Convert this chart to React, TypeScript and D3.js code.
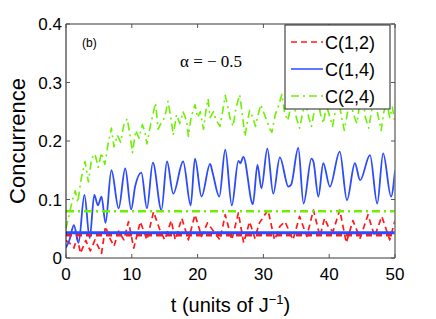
import { useEffect, useRef } from "react";
import * as d3 from "d3";

// values
const xTicks = [0, 10, 20, 30, 40, 50];
const yTicks = [0, 0.1, 0.2, 0.3, 0.4];
const yTickLabels = ["0", "0.1", "0.2", "0.3", "0.4"];

const c12T = [0, 0.6, 1.2, 1.7, 2.2, 3.0, 3.7, 4.4, 5.4, 6.0, 6.6, 7.3, 8.0, 8.8, 9.5, 10.3, 11.3, 12.3, 13.3, 14.2, 15.0, 16.0, 16.6, 17.6, 18.6, 19.6, 20.6, 21.5, 22.4, 23.4, 24.2, 25.2, 26.2, 27.0, 27.9, 28.7, 29.4, 30.7, 31.7, 32.5, 33.3, 34.5, 35.5, 36.6, 37.6, 38.6, 39.3, 40.0, 40.6, 41.6, 42.6, 43.6, 44.7, 45.9, 46.9, 48.0, 49.2, 50];
const c12V = [0.03, 0.025, 0.017, 0.035, 0.008, 0.03, 0.012, 0.031, 0.008, 0.054, 0.035, 0.02, 0.046, 0.031, 0.062, 0.017, 0.062, 0.031, 0.079, 0.05, 0.031, 0.064, 0.031, 0.068, 0.031, 0.074, 0.037, 0.06, 0.046, 0.031, 0.074, 0.031, 0.077, 0.026, 0.062, 0.034, 0.06, 0.082, 0.031, 0.054, 0.062, 0.031, 0.071, 0.037, 0.082, 0.037, 0.068, 0.05, 0.046, 0.082, 0.026, 0.064, 0.034, 0.074, 0.037, 0.071, 0.031, 0.064];

const c14T = [0, 0.5, 1.2, 1.9, 2.8, 3.6, 4.3, 4.85, 5.4, 6.0, 6.9, 8.0, 9.0, 9.9, 10.5, 11.45, 12.3, 13.2, 14.5, 15.35, 16.3, 17.8, 18.95, 19.6, 20.6, 21.9, 22.3, 23.3, 24.2, 25.2, 26.2, 26.5, 26.95, 28.4, 29.1, 29.7, 30.6, 31.5, 32.5, 33.8, 34.2, 35.3, 36.1, 37.3, 37.6, 38.35, 39.1, 40.1, 41.6, 42.7, 43.9, 44.7, 46.2, 47.3, 48.2, 49.4, 50];
const c14V = [0.018, 0.03, 0.056, 0.026, 0.108, 0.034, 0.108, 0.09, 0.105, 0.06, 0.15, 0.085, 0.153, 0.083, 0.122, 0.146, 0.085, 0.163, 0.082, 0.165, 0.11, 0.165, 0.09, 0.17, 0.105, 0.161, 0.145, 0.105, 0.185, 0.09, 0.166, 0.162, 0.173, 0.092, 0.159, 0.119, 0.187, 0.11, 0.172, 0.122, 0.125, 0.188, 0.093, 0.17, 0.165, 0.105, 0.162, 0.122, 0.182, 0.099, 0.162, 0.133, 0.176, 0.093, 0.179, 0.105, 0.15];

const c24T = [0, 0.5, 1.0, 1.4, 1.8, 2.3, 2.9, 3.4, 3.9, 4.4, 4.9, 5.4, 5.9, 6.4, 6.9, 7.3, 7.8, 8.3, 8.8, 9.3, 9.8, 10.1, 10.6, 11.1, 11.6, 12.0, 12.3, 12.8, 13.2, 13.6, 14.0, 14.5, 15.0, 15.5, 16.0, 16.3, 16.8, 17.3, 17.8, 18.3, 18.6, 19.0, 19.6, 20.0, 20.4, 20.9, 21.3, 21.6, 21.9, 22.4, 22.8, 23.4, 23.8, 24.2, 24.6, 24.9, 25.4, 25.8, 26.4, 26.8, 27.2, 27.6, 27.9, 28.4, 28.8, 29.2, 29.6, 30.0, 30.5, 31.0, 31.3, 31.8, 32.3, 32.8, 33.2, 33.7, 34.2, 34.6, 35.0, 35.5, 36.0, 36.4, 36.9, 37.3, 37.8, 38.2, 38.7, 39.1, 39.6, 40.0, 40.5, 41.0, 41.4, 41.9, 42.3, 42.8, 43.2, 43.7, 44.2, 44.6, 45.1, 45.5, 46.0, 46.5, 46.9, 47.4, 47.9, 48.3, 48.8, 49.2, 49.6, 50];
const c24V = [0.05, 0.075, 0.1, 0.115, 0.095, 0.135, 0.165, 0.13, 0.17, 0.178, 0.155, 0.18, 0.16, 0.195, 0.222, 0.19, 0.21, 0.198, 0.228, 0.238, 0.205, 0.18, 0.218, 0.205, 0.228, 0.215, 0.195, 0.225, 0.245, 0.265, 0.22, 0.232, 0.24, 0.268, 0.235, 0.21, 0.245, 0.23, 0.25, 0.235, 0.208, 0.24, 0.262, 0.24, 0.25, 0.22, 0.255, 0.272, 0.24, 0.25, 0.236, 0.225, 0.25, 0.278, 0.258, 0.24, 0.225, 0.255, 0.279, 0.245, 0.208, 0.235, 0.252, 0.24, 0.225, 0.245, 0.262, 0.25, 0.235, 0.22, 0.215, 0.245, 0.26, 0.28, 0.25, 0.235, 0.26, 0.27, 0.24, 0.222, 0.25, 0.268, 0.24, 0.225, 0.255, 0.275, 0.245, 0.23, 0.26, 0.245, 0.225, 0.255, 0.272, 0.24, 0.218, 0.25, 0.27, 0.245, 0.23, 0.26, 0.275, 0.24, 0.222, 0.255, 0.27, 0.245, 0.218, 0.25, 0.265, 0.24, 0.258, 0.23];

// long-time average levels (horizontal lines)
const avgT = [0, 50];
const avg12 = [0.039, 0.039];
const avg14 = [0.043, 0.043];
const avg24 = [0.08, 0.08];

const legendNames = ["C(1,2)", "C(1,4)", "C(2,4)"];

const RED = "#ff1a1a";
const BLUE = "#2a4bff";
const GREEN = "#6ef000";
const DASH = "6,4";
const DASHDOT = "8,4,2,4";

export default function App() {
  const svgRef = useRef<SVGSVGElement>(null);

  useEffect(() => {
    if (!svgRef.current) return;
    const svg = d3.select(svgRef.current);
    svg.selectAll("*").remove();

    const width = 436;
    const height = 319;
    const margin = { top: 24, right: 41, bottom: 61, left: 66 };
    const font = "Liberation Sans, Arial, sans-serif";

    const x = d3.scaleLinear().domain([0, 50]).range([margin.left, width - margin.right]);
    const y = d3.scaleLinear().domain([0, 0.4]).range([height - margin.bottom, margin.top]);

    svg.append("rect").attr("width", width).attr("height", height).attr("fill", "#fff");

    const clip = svg.append("defs").append("clipPath").attr("id", "plot-clip");
    clip
      .append("rect")
      .attr("x", margin.left)
      .attr("y", margin.top)
      .attr("width", x(50) - x(0))
      .attr("height", y(0) - y(0.4));

    const plot = svg.append("g").attr("clip-path", "url(#plot-clip)");

    const line = (curve: d3.CurveFactory) =>
      d3
        .line<[number, number]>()
        .x((d) => x(d[0]))
        .y((d) => y(d[1]))
        .curve(curve);

    const zip = (ts: number[], vs: number[]) => ts.map((t, i) => [t, vs[i]] as [number, number]);

    const drawSeries = (
      ts: number[],
      vs: number[],
      color: string,
      w: number,
      dash: string | null,
      curve: d3.CurveFactory
    ) => {
      plot
        .append("path")
        .datum(zip(ts, vs))
        .attr("d", line(curve))
        .attr("fill", "none")
        .attr("stroke", color)
        .attr("stroke-width", w)
        .attr("stroke-dasharray", dash)
        .attr("stroke-linejoin", "round");
    };

    // time series
    drawSeries(c24T, c24V, GREEN, 1.6, DASHDOT, d3.curveLinear);
    drawSeries(c12T, c12V, RED, 1.7, DASH, d3.curveLinear);
    drawSeries(c14T, c14V, BLUE, 1.8, null, d3.curveMonotoneX);

    // averages
    drawSeries(avgT, avg24, GREEN, 2.6, DASHDOT, d3.curveLinear);
    drawSeries(avgT, avg12, RED, 2.4, DASH, d3.curveLinear);
    drawSeries(avgT, avg14, BLUE, 3, null, d3.curveLinear);

    // frame
    const frame = svg.append("g");
    const x0 = x(0), x1 = x(50), y0 = y(0), y1 = y(0.4);
    frame.append("line").attr("x1", x0).attr("x2", x1).attr("y1", y1).attr("y2", y1).attr("stroke", "#7a7a7a").attr("stroke-width", 1.5);
    frame.append("line").attr("x1", x1).attr("x2", x1).attr("y1", y1).attr("y2", y0).attr("stroke", "#7a7a7a").attr("stroke-width", 1.5);
    frame.append("line").attr("x1", x0).attr("x2", x1).attr("y1", y0).attr("y2", y0).attr("stroke", "#7a7a7a").attr("stroke-width", 1.5);
    frame.append("line").attr("x1", x0).attr("x2", x0).attr("y1", y1).attr("y2", y0).attr("stroke", "#111").attr("stroke-width", 1);

    const tl = 4;
    xTicks.forEach((t) => {
      frame.append("line").attr("x1", x(t)).attr("x2", x(t)).attr("y1", y0).attr("y2", y0 - tl).attr("stroke", "#555");
      frame.append("line").attr("x1", x(t)).attr("x2", x(t)).attr("y1", y1).attr("y2", y1 + tl).attr("stroke", "#555");
      svg
        .append("text")
        .attr("x", x(t))
        .attr("y", y0 + 22)
        .attr("text-anchor", "middle")
        .attr("font-family", font)
        .attr("font-size", 17)
        .attr("fill", "#000")
        .text(String(t));
    });
    yTicks.forEach((v, i) => {
      frame.append("line").attr("x1", x0).attr("x2", x0 + tl).attr("y1", y(v)).attr("y2", y(v)).attr("stroke", "#555");
      frame.append("line").attr("x1", x1).attr("x2", x1 - tl).attr("y1", y(v)).attr("y2", y(v)).attr("stroke", "#555");
      svg
        .append("text")
        .attr("x", x0 - 4)
        .attr("y", y(v) + 6)
        .attr("text-anchor", "end")
        .attr("font-family", font)
        .attr("font-size", 17)
        .attr("fill", "#000")
        .text(yTickLabels[i]);
    });

    // axis labels
    const xl = svg
      .append("text")
      .attr("x", (x0 + x1) / 2)
      .attr("y", 312)
      .attr("text-anchor", "middle")
      .attr("font-family", font)
      .attr("font-size", 20)
      .attr("fill", "#000");
    xl.append("tspan").text("t (units of J");
    xl.append("tspan").attr("dy", -8).attr("font-size", 13).text("−1");
    xl.append("tspan").attr("dy", 8).text(")");

    svg
      .append("text")
      .attr("transform", `translate(25, ${(y0 + y1) / 2}) rotate(-90)`)
      .attr("text-anchor", "middle")
      .attr("font-family", font)
      .attr("font-size", 22)
      .attr("fill", "#000")
      .text("Concurrence");

    // annotations
    svg
      .append("text")
      .attr("x", 82)
      .attr("y", 47)
      .attr("font-family", font)
      .attr("font-size", 12)
      .attr("fill", "#000")
      .text("(b)");
    svg
      .append("text")
      .attr("x", 180)
      .attr("y", 67)
      .attr("font-family", "Liberation Serif, Times New Roman, serif")
      .attr("font-size", 17)
      .attr("fill", "#000")
      .text("α = − 0.5");

    // legend
    const lg = svg.append("g");
    lg.append("rect")
      .attr("x", 285)
      .attr("y", 25)
      .attr("width", 105)
      .attr("height", 84)
      .attr("fill", "#fff")
      .attr("stroke", "#222")
      .attr("stroke-width", 1);
    const legendStyles = [
      { c: RED, d: DASH },
      { c: BLUE, d: null },
      { c: GREEN, d: DASHDOT },
    ];
    legendNames.forEach((name, i) => {
      const cy = 42 + i * 27;
      lg.append("line")
        .attr("x1", 291)
        .attr("x2", 323)
        .attr("y1", cy)
        .attr("y2", cy)
        .attr("stroke", legendStyles[i].c)
        .attr("stroke-width", 1.5)
        .attr("stroke-dasharray", legendStyles[i].d);
      lg.append("text")
        .attr("x", 325)
        .attr("y", cy + 6.5)
        .attr("font-family", font)
        .attr("font-size", 18)
        .attr("fill", "#000")
        .text(name);
    });
  }, []);

  return (
    <svg
      ref={svgRef}
      width={436}
      height={319}
      viewBox="0 0 436 319"
      style={{ position: "absolute", left: 0, top: 0 }}
    />
  );
}
